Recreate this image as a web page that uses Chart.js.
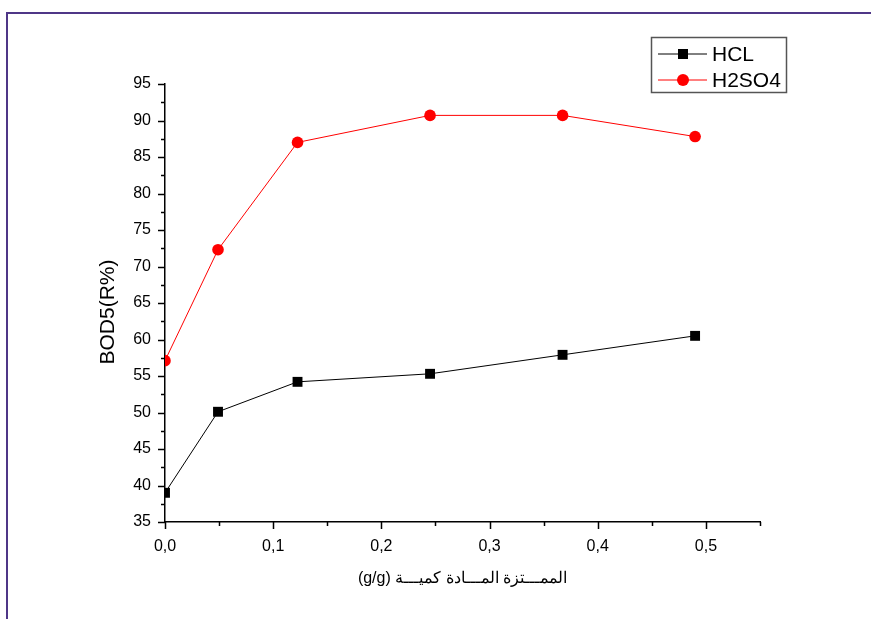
<!DOCTYPE html>
<html>
<head>
<meta charset="utf-8">
<script src="https://cdn.jsdelivr.net/npm/chart.js@4.4.1/dist/chart.umd.min.js"></script>
<style>
    html, body { margin: 0; padding: 0; background: #fff; }
    #wrap { position: relative; width: 871px; height: 619px; overflow: hidden; }
    #frame {
        position: absolute; left: 6px; top: 12px; right: -10px; bottom: -10px;
        border-top: 2px solid #4f3687; border-left: 2px solid #4f3687;
    }
    canvas { position: absolute; left: 0; top: 0; }
</style>
</head>
<body>
<div id="wrap">
    <div id="frame"></div>
    <canvas id="bodChart" width="871" height="619"></canvas>
</div>
<script>
// ======================
// Data
// ======================
const dose = [0, 0.049, 0.1225, 0.245, 0.3675, 0.49];        // g/g
const hclValues = [39.0, 50.1, 54.2, 55.3, 57.9, 60.5];       // BOD5 R%
const h2so4Values = [57.1, 72.3, 87.0, 90.7, 90.7, 87.8];     // BOD5 R%
const seriesNames = ["HCL", "H2SO4"];
const yTicks = [35, 40, 45, 50, 55, 60, 65, 70, 75, 80, 85, 90, 95];
const xTicks = ["0,0", "0,1", "0,2", "0,3", "0,4", "0,5"];
const yTitle = "BOD5(R%)";
// Arabic words in this order so the run reads as printed
const xTitle = "(g/g) الممـــتزة المـــادة كميـــة";

const FONT = "'Liberation Sans', Arial, sans-serif";

function toPoints(xs, ys) {
    return xs.map((x, i) => ({ x: x, y: ys[i] }));
}

// ======================
// Plugin: major + minor ticks, pointing outward
// ======================
const originTicks = {
    id: "originTicks",
    afterDraw(chart) {
        const ctx = chart.ctx;
        const x = chart.scales.x;
        const y = chart.scales.y;
        ctx.save();
        ctx.strokeStyle = "#000";
        ctx.lineWidth = 1.5;
        ctx.beginPath();
        y.ticks.forEach(t => {
            const py = Math.round(y.getPixelForValue(t.value)) + 0.5;
            const len = yTicks.includes(t.value) ? 7 : 4;
            ctx.moveTo(y.right, py);
            ctx.lineTo(y.right - len, py);
        });
        x.ticks.forEach(t => {
            const px = Math.round(x.getPixelForValue(t.value)) + 0.5;
            const major = Math.round(t.value * 100) % 10 === 0;
            const len = major ? 7 : 4;
            ctx.moveTo(px, x.top);
            ctx.lineTo(px, x.top + len);
        });
        ctx.stroke();

        // vertical axis title
        ctx.fillStyle = "#000";
        ctx.font = "21px " + FONT;
        ctx.textAlign = "center";
        ctx.textBaseline = "middle";
        ctx.translate(108, 312);
        ctx.rotate(-Math.PI / 2);
        ctx.fillText(yTitle, 0, 0);
        ctx.restore();
    }
};

// ======================
// Plugin: boxed legend
// ======================
const boxLegend = {
    id: "boxLegend",
    afterDraw(chart) {
        const ctx = chart.ctx;
        const left = 651, top = 37, w = 135, h = 55;
        ctx.save();
        ctx.strokeStyle = "#555";
        ctx.lineWidth = 1.5;
        ctx.strokeRect(left + 0.5, top + 0.5, w, h);

        chart.data.datasets.forEach((ds, i) => {
            const cy = 54 + i * 26;
            ctx.strokeStyle = ds.borderColor;
            ctx.lineWidth = 1;
            ctx.beginPath();
            ctx.moveTo(658, cy);
            ctx.lineTo(707, cy);
            ctx.stroke();

            ctx.fillStyle = ds.pointBackgroundColor;
            ctx.beginPath();
            if (ds.pointStyle === "rect") {
                ctx.rect(683 - 5, cy - 5, 10, 10);
            } else {
                ctx.arc(683, cy, 6, 0, Math.PI * 2);
            }
            ctx.fill();

            ctx.fillStyle = "#000";
            ctx.font = "21px " + FONT;
            ctx.textBaseline = "middle";
            ctx.textAlign = "left";
            ctx.fillText(ds.label, 712, cy + 1);
        });
        ctx.restore();
    }
};

// ======================
// Chart
// ======================
const ctx = document.getElementById("bodChart").getContext("2d");

new Chart(ctx, {
    type: "line",
    data: {
        datasets: [
            {
                label: seriesNames[0],
                data: toPoints(dose, hclValues),
                borderColor: "#000000",
                backgroundColor: "#000000",
                pointBackgroundColor: "#000000",
                pointBorderColor: "#000000",
                pointStyle: "rect",
                pointRadius: 7,
                pointBorderWidth: 0,
                borderWidth: 1,
                tension: 0,
                clip: 0
            },
            {
                label: seriesNames[1],
                data: toPoints(dose, h2so4Values),
                borderColor: "#ff0000",
                backgroundColor: "#ff0000",
                pointBackgroundColor: "#ff0000",
                pointBorderColor: "#ff0000",
                pointStyle: "circle",
                pointRadius: 5.8,
                pointBorderWidth: 0,
                borderWidth: 1,
                tension: 0,
                clip: 0
            }
        ]
    },
    options: {
        responsive: false,
        animation: false,
        events: [],
        layout: {
            padding: { left: 0, top: 84, right: 111, bottom: 0 }
        },
        plugins: {
            legend: { display: false },
            tooltip: { enabled: false }
        },
        scales: {
            x: {
                type: "linear",
                min: 0,
                max: 0.55,
                afterFit: (scale) => { scale.height = 97; },
                border: { display: true, color: "#000", width: 1.5 },
                grid: { display: false, drawTicks: false },
                ticks: {
                    stepSize: 0.05,
                    autoSkip: false,
                    maxRotation: 0,
                    padding: 15,
                    color: "#000",
                    font: { family: FONT, size: 16 },
                    callback: (v) => {
                        const k = Math.round(v * 100);
                        return k % 10 === 0 ? xTicks[k / 10] : "";
                    }
                },
                title: {
                    display: true,
                    text: xTitle,
                    color: "#000",
                    font: { family: FONT, size: 16 },
                    padding: { top: 0, bottom: 31 }
                }
            },
            y: {
                min: 35,
                max: 95,
                afterFit: (scale) => { scale.width = 165; },
                border: { display: true, color: "#000", width: 1.5 },
                grid: { display: false, drawTicks: false },
                ticks: {
                    stepSize: 2.5,
                    autoSkip: false,
                    padding: 14,
                    color: "#000",
                    font: { family: FONT, size: 16 },
                    callback: (v) => (yTicks.includes(v) ? String(v) : "")
                },
                title: { display: false }
            }
        }
    },
    plugins: [originTicks, boxLegend]
});
</script>
</body>
</html>
